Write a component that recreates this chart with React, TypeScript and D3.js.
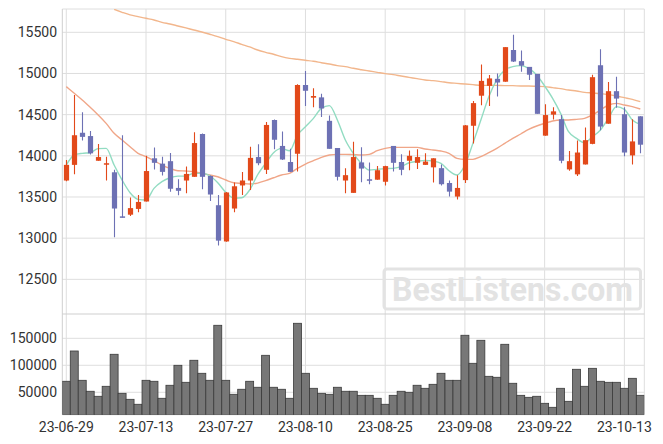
import React from "react";
import * as d3 from "d3";

const dates = [
  "2023-06-29","2023-06-30","2023-07-03","2023-07-04","2023-07-05","2023-07-06","2023-07-07","2023-07-10","2023-07-11","2023-07-12",
  "2023-07-13","2023-07-14","2023-07-17","2023-07-18","2023-07-19","2023-07-20","2023-07-21","2023-07-24","2023-07-25","2023-07-26",
  "2023-07-27","2023-07-28","2023-07-31","2023-08-01","2023-08-02","2023-08-03","2023-08-04","2023-08-07","2023-08-08","2023-08-09",
  "2023-08-10","2023-08-11","2023-08-14","2023-08-16","2023-08-17","2023-08-18","2023-08-21","2023-08-22","2023-08-23","2023-08-24",
  "2023-08-25","2023-08-28","2023-08-29","2023-08-30","2023-08-31","2023-09-01","2023-09-04","2023-09-05","2023-09-06","2023-09-07",
  "2023-09-08","2023-09-11","2023-09-12","2023-09-13","2023-09-14","2023-09-15","2023-09-18","2023-09-19","2023-09-20","2023-09-21",
  "2023-09-22","2023-09-25","2023-09-26","2023-09-27","2023-10-04","2023-10-05","2023-10-06","2023-10-10","2023-10-11","2023-10-12",
  "2023-10-13","2023-10-16","2023-10-17",
];

const opens = [
  13700,13890,14280,14240,13940,13895,13800,13265,13285,13355,
  13445,13970,13905,13935,13610,13700,13745,14265,13755,13400,
  12960,13360,13640,13700,13985,13830,14435,14120,13925,14025,
  14860,14706,14710,14425,14095,13700,13550,13920,13715,13710,
  13685,14120,13925,13940,13915,13890,13860,13850,13670,13505,
  13705,14365,14730,14850,14935,14900,15285,15150,15080,14995,
  14245,14500,14445,13835,13775,13895,14145,15100,14390,14785,
  14505,14005,14480,
];
const highs = [
  13950,14740,14530,14300,14145,13990,13830,14250,13495,13525,
  14000,14100,13990,14035,13715,13870,14285,14270,13760,13525,
  13560,13675,13805,14110,14140,14410,14440,14295,14085,14870,
  15030,14820,14755,14490,14095,13850,14170,14105,13920,13875,
  13880,14120,14020,14065,14080,14030,13970,13895,13700,13765,
  14375,14665,15110,14980,15000,15320,15470,15280,15080,14995,
  14625,14590,14495,14060,14185,14345,14985,15295,14895,14960,
  14590,14445,14480,
];
const lows = [
  13690,13775,14185,14015,13940,13700,13010,13250,13270,13315,
  13445,13835,13760,13565,13520,13545,13745,13595,13450,12910,
  12955,13315,13525,13585,13885,13780,14080,13950,13805,13810,
  14605,14590,14470,14085,13700,13545,13550,13680,13655,13710,
  13640,13810,13765,13825,13840,13890,13675,13640,13505,13470,
  13670,14150,14615,14605,14720,14900,15140,15020,14920,14510,
  14245,14440,13910,13820,13755,13895,14140,14310,14390,14585,
  13995,13895,14030,
];
const closes = [
  13890,14250,14230,14030,13985,13910,13360,13250,13365,13440,
  13815,13915,13805,13600,13575,13780,14155,13745,13530,12970,
  13555,13630,13700,13975,13910,14375,14195,13955,13805,14860,
  14790,14726,14575,14085,13745,13765,13985,13845,13700,13825,
  13875,13915,13830,14000,13985,13930,13970,13655,13565,13610,
  14370,14640,14910,14940,14890,15320,15145,15095,14985,14510,
  14495,14540,13940,13935,14040,14190,14955,14355,14785,14695,
  14040,14175,14135,
];
const volumes = [
  70400,126500,72200,51900,42600,61100,120400,48100,37000,27800,
  72200,70400,38900,63000,100000,68500,109300,85200,72200,174100,
  72200,46300,55600,70400,59300,118500,59300,55600,38900,177800,
  85200,57400,48100,46300,59300,51900,51900,44400,44400,38900,
  27800,44400,51900,50000,63000,57400,64800,85200,72200,72200,
  155600,103700,146300,79600,77800,138900,66700,44400,40700,42600,
  29600,22200,57400,33300,92600,61100,94400,70400,68500,68500,
  57400,75900,44400,
];
const ma5 = [
  13888,14010,14030,14038,14087,14091,13888,13706,13552,13471,
  13463,13605,13686,13734,13754,13754,13787,13787,13758,13673,
  13556,13487,13491,13585,13770,13908,14038,14091,14062,14253,
  14354,14455,14577,14609,14435,14192,14030,13908,13827,13836,
  13844,13848,13868,13916,13932,13945,13937,13908,13819,13767,
  13888,14151,14435,14718,14921,15042,15083,15095,15063,14982,
  14848,14698,14516,14293,14212,14159,14232,14313,14455,14597,
  14565,14435,14382,
];
const ma20 = [
  14840,14759,14678,14589,14496,14394,14273,14192,14111,14030,
  13990,13941,13888,13848,13819,13815,13807,13787,13767,13746,
  13706,13673,13665,13657,13669,13698,13734,13767,13787,13848,
  13900,13941,13981,14010,14018,14018,14014,14010,14018,14062,
  14091,14103,14103,14103,14103,14083,14071,14058,14030,13969,
  13957,13957,13990,14038,14091,14151,14212,14265,14321,14362,
  14394,14423,14435,14435,14443,14455,14496,14556,14617,14637,
  14617,14597,14569,
];
const maLong = [
  null,null,null,null,null,null,15779,15743,15711,15690,
  15670,15650,15621,15601,15577,15553,15528,15504,15476,15447,
  15415,15387,15354,15322,15285,15257,15233,15204,15184,15172,
  15160,15148,15131,15115,15095,15083,15063,15046,15030,15014,
  14998,14986,14969,14953,14937,14921,14913,14901,14888,14880,
  14872,14864,14856,14856,14856,14852,14852,14848,14848,14844,
  14840,14828,14816,14799,14787,14771,14763,14755,14743,14726,
  14706,14686,14658,
];

const priceTicks = [12500, 13000, 13500, 14000, 14500, 15000, 15500];
const volumeTicks = [50000, 100000, 150000];
const dateTicks = ["2023-06-29","2023-07-13","2023-07-27","2023-08-10","2023-08-25","2023-09-08","2023-09-22","2023-10-13"];

const W = 663, H = 444;
const L = 62.3, R = 644.3, T = 9, PB = 314, VB = 414.7;
const UP = "#e2491a", DOWN = "#6d71b4";
const FONT = "Roboto, 'Noto Sans', sans-serif";

export default function App() {
  const x = d3.scaleBand<string>().domain(dates).range([L, R]).padding(0);
  const y = d3.scaleLinear().domain([12079, 15783]).range([PB, T]);
  const yv = d3.scaleLinear().domain([8500, 195000]).range([VB, PB]);
  const bw = x.bandwidth();
  const cx = (d: string) => (x(d) as number) + bw / 2;
  const fmt = (d: string) => d.slice(2);

  const mkLine = (vals: (number | null)[]) =>
    d3.line<number | null>()
      .defined((v) => v != null)
      .x((_, i) => cx(dates[i]))
      .y((v) => y(v as number))
      .curve(d3.curveMonotoneX)(vals) || "";

  return (
    <svg width={W} height={H} style={{ position: "absolute", left: 0, top: 0, background: "#fff" }}>
      <defs>
        <clipPath id="pc"><rect x={L} y={T} width={R - L} height={PB - T} /></clipPath>
        <clipPath id="vc"><rect x={L} y={PB} width={R - L} height={VB - PB} /></clipPath>
      </defs>
      {/* grid */}
      {priceTicks.map((t) => (
        <line key={"pg" + t} x1={L} x2={R} y1={y(t)} y2={y(t)} stroke="#dedede" strokeWidth={1} />
      ))}
      {volumeTicks.map((t) => (
        <line key={"vg" + t} x1={L} x2={R} y1={yv(t)} y2={yv(t)} stroke="#dedede" strokeWidth={1} />
      ))}
      {dateTicks.map((d) => (
        <line key={"xg" + d} x1={cx(d)} x2={cx(d)} y1={T} y2={VB} stroke="#dedede" strokeWidth={1} />
      ))}
      {/* frame */}
      <line x1={L} x2={R} y1={T} y2={T} stroke="#dedede" />
      <line x1={R} x2={R} y1={T} y2={VB} stroke="#dedede" />
      <line x1={L} x2={L} y1={T} y2={VB} stroke="#cfcfcf" />
      <line x1={L} x2={R} y1={PB} y2={PB} stroke="#cfcfcf" />
      <line x1={L} x2={R} y1={VB} y2={VB} stroke="#cfcfcf" />

      {/* watermark */}
      <g>
        <rect x={384} y={269} width={256.5} height={40} rx={3} fill="none" stroke="#e3e3e3" strokeWidth={3} />
        <text x={392} y={301} fontFamily={FONT} fontWeight={700} fontSize={33} fill="#e3e3e3"
          textLength={241} lengthAdjust="spacingAndGlyphs">BestListens.com</text>
      </g>

      {/* volume */}
      <g clipPath="url(#vc)">
        {volumes.map((v, i) => (
          <rect key={"v" + i} x={x(dates[i]) as number} y={yv(v)} width={bw} height={VB - yv(v)}
            fill="#777777" stroke="#3a3a3a" strokeWidth={0.8} />
        ))}
      </g>

      <g clipPath="url(#pc)">
        {/* moving averages */}
        <path d={mkLine(maLong)} fill="none" stroke="#f2b68c" strokeWidth={1.4} />
        <path d={mkLine(ma20)} fill="none" stroke="#f0a688" strokeWidth={1.4} />
        <path d={mkLine(ma5)} fill="none" stroke="#92dcc2" strokeWidth={1.4} />
        {/* candles */}
        {dates.map((d, i) => {
          const o = opens[i], c = closes[i], h = highs[i], l = lows[i];
          const col = c >= o ? UP : DOWN;
          const top = y(Math.max(o, c)), bot = y(Math.min(o, c));
          const xc = Math.round(cx(d)) + 0.5;
          return (
            <g key={"c" + i}>
              <line x1={xc} x2={xc} y1={y(h)} y2={y(l)} stroke={col} strokeWidth={1.1} />
              <rect x={xc - 2.6} y={top} width={5.2} height={Math.max(1.5, bot - top)} fill={col} />
            </g>
          );
        })}
      </g>

      {/* axis labels */}
      {priceTicks.map((t) => (
        <text key={"pl" + t} x={57} y={y(t)} dy="0.35em" textAnchor="end" fontFamily={FONT} fontSize={14} fill="#333">
          {t}
        </text>
      ))}
      {volumeTicks.map((t) => (
        <text key={"vl" + t} x={57} y={yv(t)} dy="0.35em" textAnchor="end" fontFamily={FONT} fontSize={14} fill="#333">
          {t}
        </text>
      ))}
      {dateTicks.map((d) => (
        <text key={"xl" + d} x={cx(d)} y={432} textAnchor="middle" fontFamily={FONT} fontSize={14} fill="#333">
          {fmt(d)}
        </text>
      ))}
    </svg>
  );
}
